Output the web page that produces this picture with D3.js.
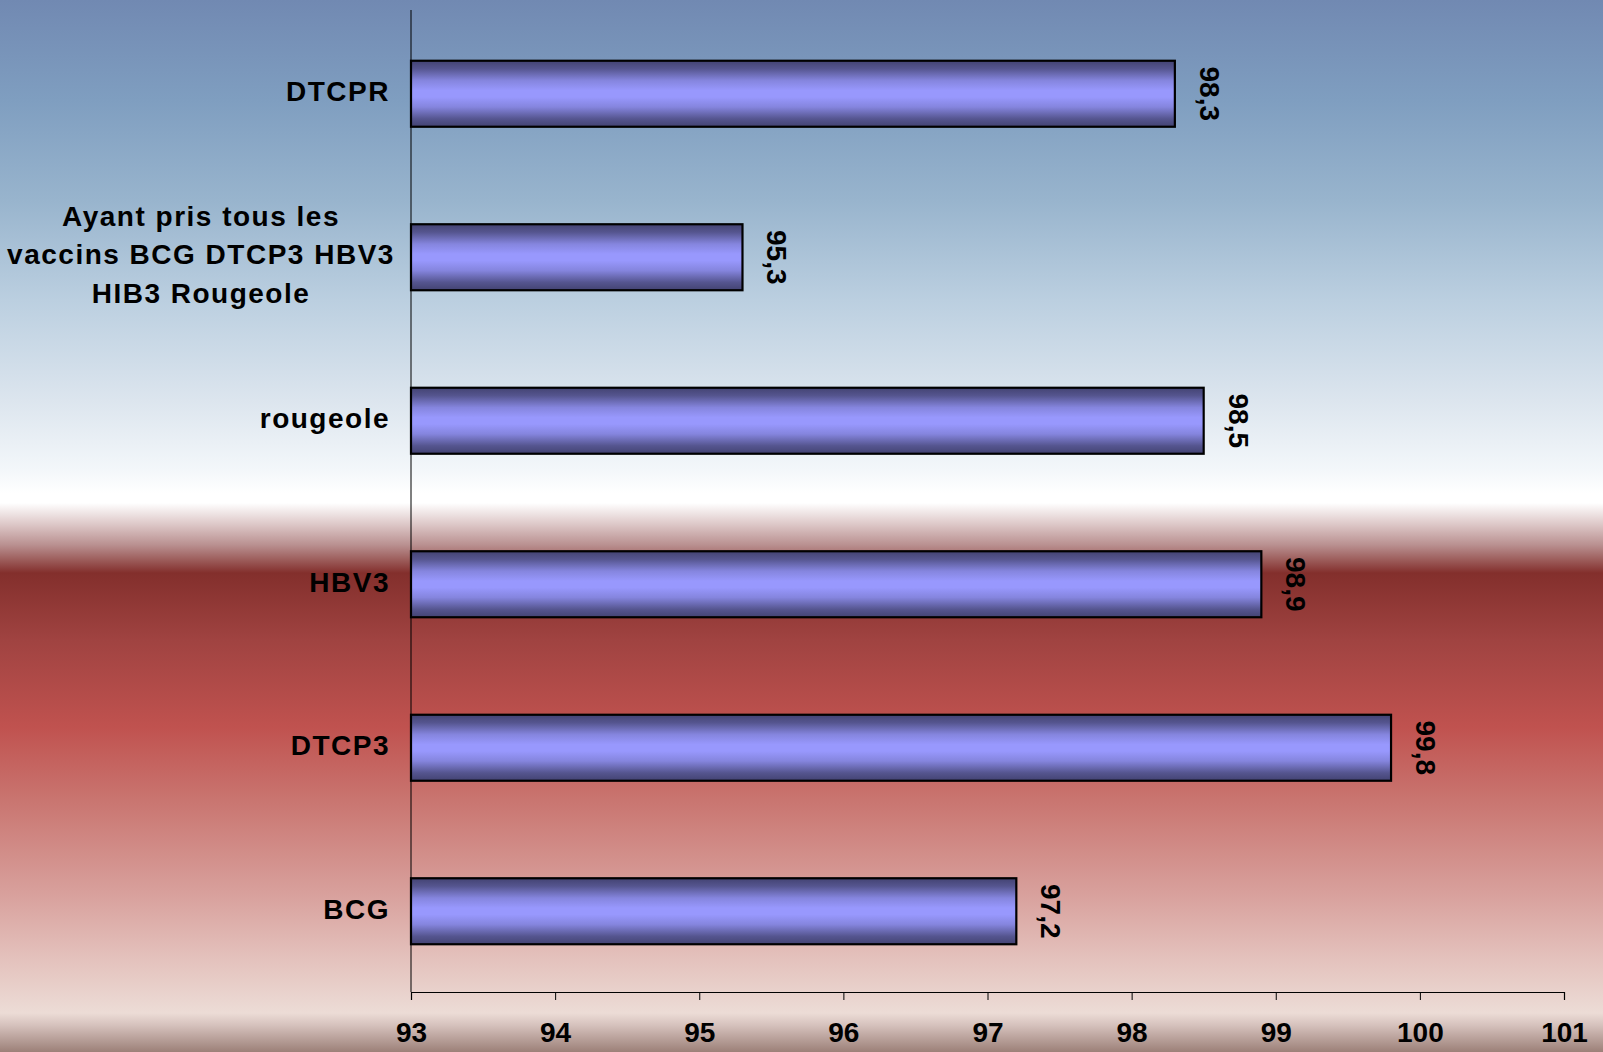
<!DOCTYPE html>
<html>
<head>
<meta charset="utf-8">
<script src="https://cdn.jsdelivr.net/npm/d3@7"></script>
<style>
html,body{margin:0;padding:0;overflow:hidden;}
svg{display:block;}
text{font-family:"Liberation Sans",Arial,sans-serif;font-weight:bold;fill:#000;}
</style>
</head>
<body>
<script>
const categories = ["DTCPR", "Ayant pris tous les|vaccins BCG DTCP3 HBV3|HIB3 Rougeole", "rougeole", "HBV3", "DTCP3", "BCG"];
const values = [98.3, 95.3, 98.5, 98.9, 99.8, 97.2];
const valueLabels = ["98,3", "95,3", "98,5", "98,9", "99,8", "97,2"];
const tickValues = [93, 94, 95, 96, 97, 98, 99, 100, 101];

const W = 1603, H = 1052;
const svg = d3.select("body").append("svg").attr("width", W).attr("height", H);
const defs = svg.append("defs");

// background gradient
const bg = defs.append("linearGradient").attr("id", "bg")
  .attr("gradientUnits", "userSpaceOnUse").attr("x1", 0).attr("y1", 0).attr("x2", 0).attr("y2", H);
[[0,"#7189b2"],[100,"#7f9ec0"],[200,"#98b4cd"],[300,"#bbcfe0"],[400,"#dce5ee"],[470,"#f3f7fa"],
 [493,"#ffffff"],[503,"#ffffff"],[525,"#dcc6c6"],[545,"#b99090"],[573,"#832f2c"],[640,"#a04341"],
 [727,"#c0524f"],[800,"#c97570"],[893,"#d8a09c"],[960,"#e4c2bd"],[1013,"#ecdcd6"],[1025,"#d6c2bd"],[1052,"#9c8078"]]
 .forEach(([y,c]) => bg.append("stop").attr("offset", y/H).attr("stop-color", c));
svg.append("rect").attr("width", W).attr("height", H).attr("fill", "url(#bg)");

// bar gradient
const bgBar = defs.append("linearGradient").attr("id", "bar").attr("x1",0).attr("y1",0).attr("x2",0).attr("y2",1);
[[0,"#434372"],[0.12,"#55558f"],[0.3,"#8585de"],[0.45,"#9898fd"],[0.55,"#9898fd"],[0.7,"#8585de"],[0.88,"#55558f"],[1,"#434372"]]
 .forEach(([o,c]) => bgBar.append("stop").attr("offset", o).attr("stop-color", c));

const x = d3.scaleLinear().domain([93, 101]).range([411, 1564]);
const y = d3.scaleBand().domain(categories).range([12, 993]).padding(0);
const barH = 66;

// axes
const xAxis = d3.axisBottom(x).tickValues(tickValues).tickSize(8).tickPadding(22).tickFormat(d3.format("d"));
const gx = svg.append("g").attr("transform", "translate(0,992)").call(xAxis);
gx.select(".domain").attr("stroke", "#000").attr("stroke-width", 1.2);
gx.selectAll(".tick line").attr("stroke", "#000").attr("stroke-width", 1);
gx.selectAll(".tick text").style("font-size", "28px").attr("font-family", null).attr("font-size", null)
  .attr("fill", "#000").attr("dy", "0.71em");

const yAxis = d3.axisLeft(y).tickSize(0).tickFormat("");
const gy = svg.append("g").attr("transform", "translate(411,0)").call(yAxis);
gy.select(".domain").attr("stroke", "#000").attr("stroke-width", 1).attr("d", "M0,10V992");

// category labels
const lab = svg.append("g").style("letter-spacing", "1.5px");
categories.forEach((c, i) => {
  const cy = y(c) + y.bandwidth()/2;
  const lines = c.split("|");
  if (lines.length === 1) {
    lab.append("text").attr("x", 390).attr("y", cy + 7.5).attr("text-anchor", "end")
      .style("font-size", "28px").text(c);
  } else {
    lines.forEach((l, j) => {
      lab.append("text").attr("x", 201).attr("y", cy + 7 + (j - 1) * 38.5).attr("text-anchor", "middle")
        .style("font-size", "28px").text(l);
    });
  }
});

// bars
svg.append("g").selectAll("rect").data(categories).join("rect")
  .attr("x", x(93))
  .attr("y", d => y(d) + y.bandwidth()/2 - barH/2)
  .attr("width", (d, i) => x(values[i]) - x(93))
  .attr("height", barH)
  .attr("fill", "url(#bar)")
  .attr("stroke", "#000").attr("stroke-width", 2.2);

// value labels (rotated)
svg.append("g").selectAll("text").data(categories).join("text")
  .attr("transform", (d, i) => `translate(${x(values[i]) + 25},${y(d) + y.bandwidth()/2}) rotate(90)`)
  .attr("text-anchor", "middle")
  .style("font-size", "28px")
  .text((d, i) => valueLabels[i]);
</script>
</body>
</html>
